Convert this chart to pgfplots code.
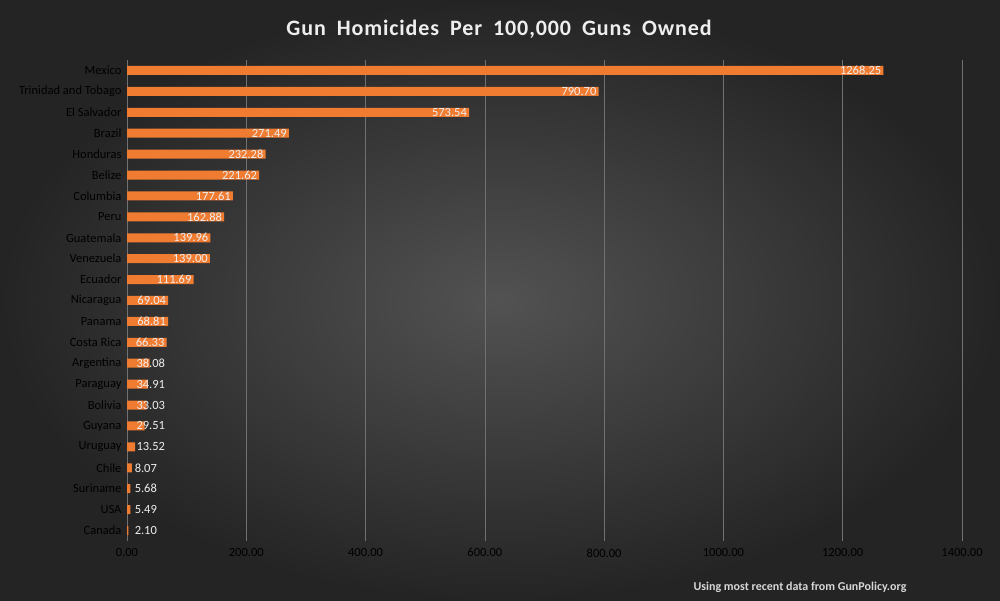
\documentclass[border=0pt]{standalone}
\usepackage{pgfplots}
\pgfplotsset{compat=1.18}
\usepackage{fontspec}
\setmainfont{Carlito}
\definecolor{bg1}{RGB}{82,82,82}
\definecolor{bg2}{RGB}{36,36,36}
\definecolor{barc}{RGB}{240,124,50}
\definecolor{txt}{RGB}{238,238,238}
\definecolor{tick}{RGB}{215,215,215}
\begin{document}
\begin{tikzpicture}[x=1pt,y=1pt]
\shade[inner color=bg1, outer color=bg2] (0,0) rectangle (1000,601);
\node[txt, font=\fontsize{22}{24}\selectfont\bfseries, text width=440pt, align=center] at (499,572) {\addfontfeatures{LetterSpace=4}Gun\, Homicides\, Per\, 100,000\, Guns\, Owned};
\node[tick, font=\fontsize{12}{14}\selectfont\bfseries, anchor=west] at (690,14) {Using most recent data from GunPolicy.org};
\begin{axis}[at={(127pt,60pt)}, anchor=south west, scale only axis,
  width=835pt, height=481pt,
  xmin=0, xmax=1400, ymin=-0.5, ymax=22.5,
  axis line style={draw=none}, tick style={draw=none},
  xmajorgrids, grid style={color=white!18!bg1, line width=0.6pt},
  xtick={0,200,...,1400},
  xticklabel style={tick, font=\fontsize{12.5}{14}\selectfont, yshift=-4pt},
  /pgf/number format/assume math mode=true,
  xticklabel={\pgfmathprintnumber[fixed,fixed zerofill,precision=2,1000 sep={}]{\tick}},
  ytick={0,...,22},
  yticklabels={Canada,USA,Suriname,Chile,Uruguay,Guyana,Bolivia,Paraguay,Argentina,Costa Rica,Panama,Nicaragua,Ecuador,Venezuela,Guatemala,Peru,Columbia,Belize,Honduras,Brazil,El Salvador,Trinidad and Tobago,Mexico},
  yticklabel style={tick, font=\fontsize{12.5}{14}\selectfont, xshift=-2pt},
  clip=false]
\addplot[xbar, bar width=9pt, bar shift=0pt, fill=barc, draw=none,
  nodes near coords, point meta=explicit symbolic,
  every node near coord/.style={anchor=east, txt, font=\fontsize{12.5}{14}\selectfont, inner sep=2pt}]
 coordinates {(1268.25,22)[1268.25] (790.70,21)[790.70] (573.54,20)[573.54] (271.49,19)[271.49]
 (232.28,18)[232.28] (221.62,17)[221.62] (177.61,16)[177.61] (162.88,15)[162.88]
 (139.96,14)[139.96] (139.00,13)[139.00] (111.69,12)[111.69] (69.04,11)[69.04]
 (68.81,10)[68.81] (66.33,9)[66.33]};
\addplot[xbar, bar width=9pt, bar shift=0pt, fill=barc, draw=none]
 coordinates {(38.08,8) (34.91,7) (33.03,6) (29.51,5) (13.52,4) (8.07,3) (5.68,2) (5.49,1) (2.10,0)};
\addplot[xbar, bar width=9pt, bar shift=0pt, draw=none, fill=none,
  nodes near coords, point meta=explicit symbolic,
  every node near coord/.style={anchor=west, txt, font=\fontsize{12.5}{14}\selectfont, inner sep=1pt}]
 coordinates {(14,8)[38.08] (14,7)[34.91] (14,6)[33.03] (14,5)[29.51] (14,4)[13.52] (11,3)[8.07] (11,2)[5.68] (11,1)[5.49] (11,0)[2.10]};
\end{axis}
\end{tikzpicture}
\end{document}
